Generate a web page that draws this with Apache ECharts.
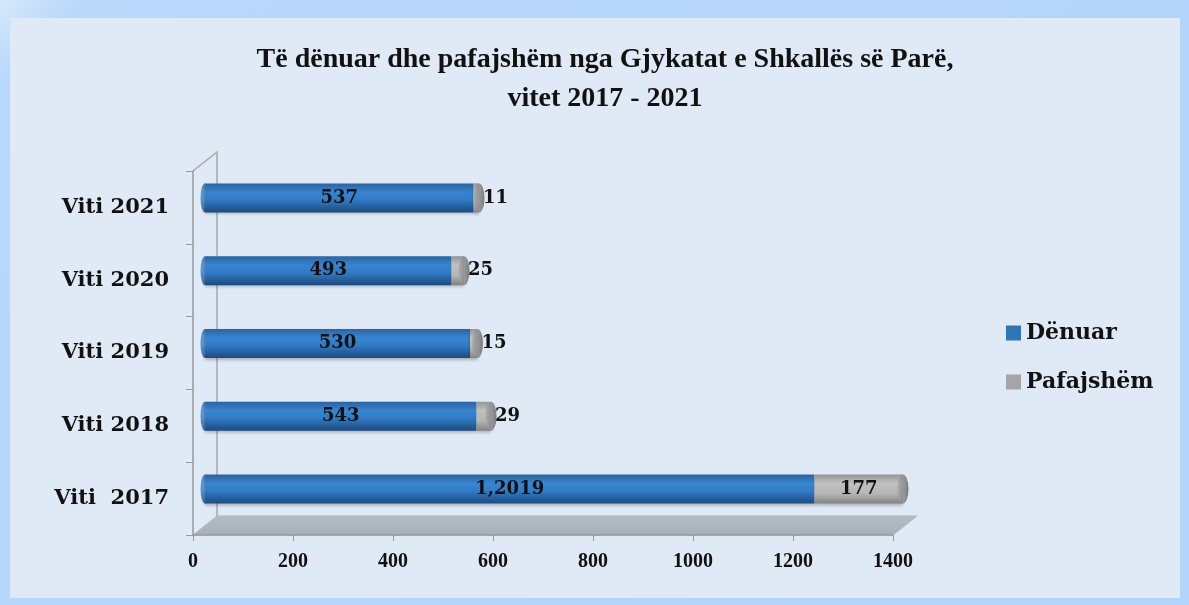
<!DOCTYPE html>
<html>
<head>
<meta charset="utf-8">
<script src="https://cdn.jsdelivr.net/npm/echarts@6/dist/echarts.min.js"></script>
<style>
  html, body { margin: 0; padding: 0; width: 1189px; height: 605px; overflow: hidden;
    background: linear-gradient(135deg, #d6e9fd 0%, #b7d7fb 5%, #b3d4fb 100%); }
  #main { position: absolute; left: 10px; top: 18px; width: 1170px; height: 580px; background: #dfeaf6; }
</style>
</head>
<body>
<div id="main"></div>
<script>
// data
var categories = ["Viti  2017", "Viti 2018", "Viti 2019", "Viti 2020", "Viti 2021"];
var denuar = [1219, 543, 530, 493, 537];
var denuarLabels = ["1,2019", "543", "530", "493", "537"];
var pafajshem = [177, 29, 15, 25, 11];
var xTicks = [0, 200, 400, 600, 800, 1000, 1200, 1400];

// layout (front plane) + 3d depth
var G = { left: 183, top: 153, width: 700, height: 364 };
var DX = 24, DY = -19;

var chart = echarts.init(document.getElementById("main"));

var blueGrad = new echarts.graphic.LinearGradient(0, 0, 0, 1, [
  { offset: 0, color: "#2b63a0" },
  { offset: 0.3, color: "#3884d0" },
  { offset: 0.55, color: "#327dc8" },
  { offset: 1, color: "#1c4a80" }
]);
var grayGrad = new echarts.graphic.LinearGradient(0, 0, 0, 1, [
  { offset: 0, color: "#959595" },
  { offset: 0.3, color: "#c0c0c0" },
  { offset: 0.65, color: "#b6b6b6" },
  { offset: 1, color: "#828282" }
]);
var capGrad = new echarts.graphic.LinearGradient(0, 0, 1, 0, [
  { offset: 0, color: "#a8a8a8" },
  { offset: 0.5, color: "#8a8a8a" },
  { offset: 1, color: "#5e5e5e" }
]);

var totals = denuar.map(function (v, i) { return [v + pafajshem[i], i]; });
var starts = denuar.map(function (v, i) { return [0, i]; });

var labelFont = { fontFamily: "DejaVu Serif", fontWeight: "bold", color: "#111" };

var option = {
  animation: false,
  title: {
    text: "Të dënuar dhe pafajshëm nga Gjykatat e Shkallës së Parë,\nvitet 2017 - 2021",
    left: 590, top: 17, textAlign: "center",
    textStyle: { fontFamily: "Liberation Serif", fontWeight: "bold", fontSize: 28, color: "#111", lineHeight: 39 }
  },
  legend: {
    orient: "vertical", left: 991, top: 299, itemGap: 27,
    itemWidth: 15, itemHeight: 15, icon: "rect",
    textStyle: { fontFamily: "DejaVu Serif", fontWeight: "bold", fontSize: 22, color: "#111" },
    data: [
      { name: "Dënuar", itemStyle: { color: "#2e75b6" } },
      { name: "Pafajshëm", itemStyle: { color: "#a5a5a5" } }
    ]
  },
  grid: [
    { left: G.left, top: G.top, width: G.width, height: G.height },
    { left: G.left + DX / 2, top: G.top + DY / 2, width: G.width, height: G.height }
  ],
  xAxis: [
    {
      gridIndex: 0, type: "value", min: 0, max: 1400, interval: 200,
      axisLine: { show: true, lineStyle: { color: "#9a9a9a", width: 1.5 } },
      axisTick: { show: true, length: 6, lineStyle: { color: "#9a9a9a" } },
      splitLine: { show: false },
      axisLabel: { margin: 17, fontFamily: "Liberation Serif", fontWeight: "bold", fontSize: 20, color: "#111",
        formatter: function (v) { return xTicks.indexOf(v) >= 0 ? String(v) : ""; } }
    },
    { gridIndex: 1, type: "value", min: 0, max: 1400, show: false }
  ],
  yAxis: [
    {
      gridIndex: 0, type: "category", data: categories,
      axisLine: { show: true, lineStyle: { color: "#9a9a9a", width: 1.5 } },
      axisTick: { show: true, length: 7, lineStyle: { color: "#9a9a9a" } },
      axisLabel: { margin: 24, fontFamily: "DejaVu Serif", fontWeight: "bold", fontSize: 21, color: "#111" }
    },
    { gridIndex: 1, type: "category", data: categories, show: false }
  ],
  series: [
    {
      name: "Dënuar", type: "bar", stack: "t", xAxisIndex: 1, yAxisIndex: 1,
      barWidth: 29, z: 3,
      itemStyle: { color: blueGrad, shadowColor: "rgba(0,0,0,0.25)", shadowBlur: 3, shadowOffsetY: 2 },
      label: Object.assign({ show: true, position: "inside", fontSize: 18,
        formatter: function (p) { return denuarLabels[p.dataIndex]; } }, labelFont),
      data: denuar
    },
    {
      name: "Pafajshëm", type: "bar", stack: "t", xAxisIndex: 1, yAxisIndex: 1,
      barWidth: 29, z: 3,
      itemStyle: { color: grayGrad, shadowColor: "rgba(0,0,0,0.25)", shadowBlur: 3, shadowOffsetY: 2 },
      label: Object.assign({ show: true, position: "right", distance: 4, fontSize: 18 }, labelFont),
      data: pafajshem.map(function (v, i) {
        return i === 0 ? { value: v, label: { position: "inside" } } : v;
      })
    },
    {
      name: "cap", type: "scatter", xAxisIndex: 1, yAxisIndex: 1, z: 4,
      symbol: "circle", symbolSize: [11, 29], silent: true,
      itemStyle: { color: capGrad },
      data: totals
    },
    {
      name: "start", type: "scatter", xAxisIndex: 1, yAxisIndex: 1, z: 2,
      symbol: "circle", symbolSize: [9, 29], silent: true,
      itemStyle: { color: blueGrad },
      data: starts
    }
  ]
};

chart.setOption(option);

// floor and back wall (decoration)
var x0 = G.left, x1 = G.left + G.width, yT = G.top, yB = G.top + G.height;
chart.setOption({
  graphic: [
    {
      type: "polygon", z: -1,
      shape: { points: [[x0, yB], [x1, yB], [x1 + DX, yB + DY], [x0 + DX, yB + DY]] },
      style: { fill: new echarts.graphic.LinearGradient(0, 0, 0, 1, [
        { offset: 0, color: "#b4bdc6" }, { offset: 1, color: "#a6b0ba" }]), stroke: "#b0b8c0" }
    },
    {
      type: "polyline", z: -1,
      shape: { points: [[x0, yT], [x0 + DX, yT + DY], [x0 + DX, yB + DY]] },
      style: { stroke: "#a8a8a8", lineWidth: 1.5, fill: null }
    }
  ]
});
</script>
</body>
</html>
